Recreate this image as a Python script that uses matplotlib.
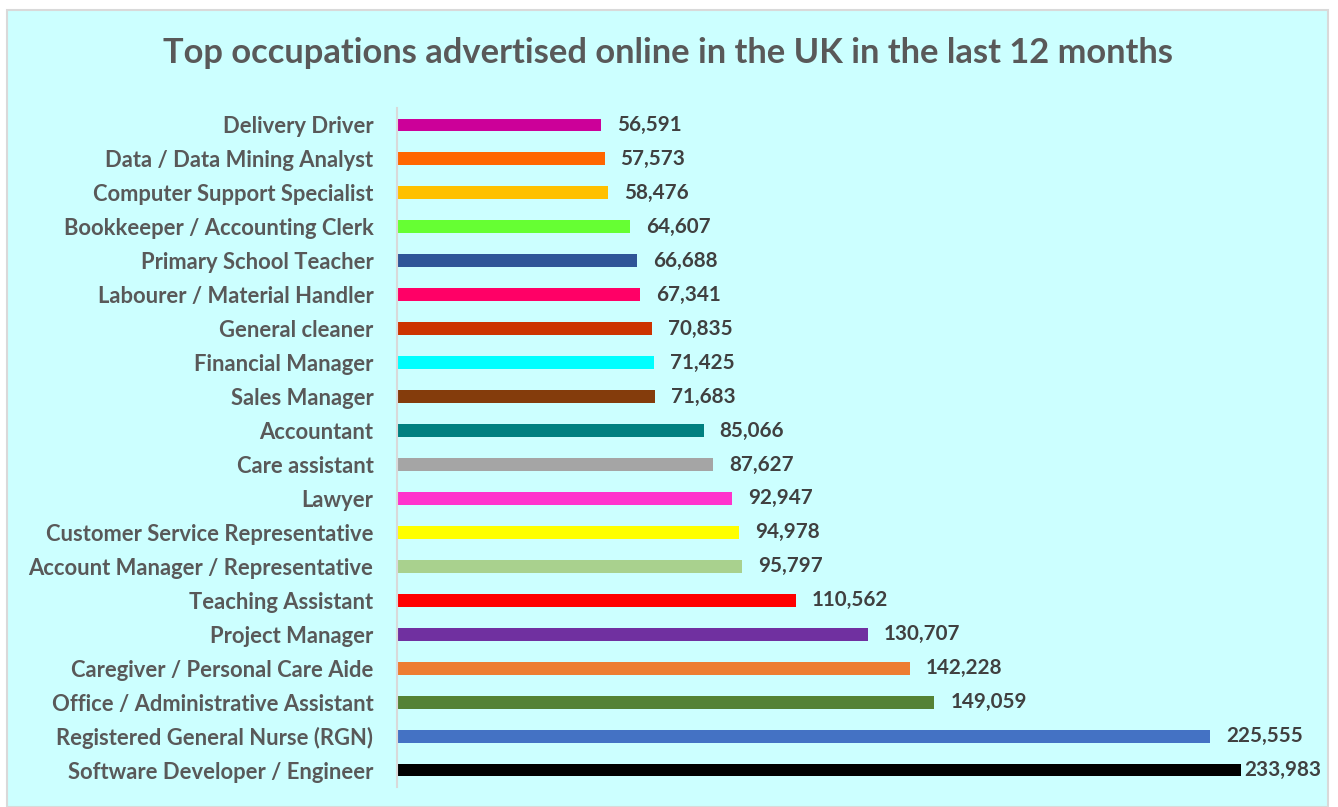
import matplotlib
matplotlib.use("Agg")
import matplotlib.pyplot as plt
from matplotlib.patches import Rectangle

categories = [
    "Delivery Driver", "Data / Data Mining Analyst", "Computer Support Specialist",
    "Bookkeeper / Accounting Clerk", "Primary School Teacher", "Labourer / Material Handler",
    "General cleaner", "Financial Manager", "Sales Manager", "Accountant", "Care assistant",
    "Lawyer", "Customer Service Representative", "Account Manager / Representative",
    "Teaching Assistant", "Project Manager", "Caregiver / Personal Care Aide",
    "Office / Administrative Assistant", "Registered General Nurse (RGN)",
    "Software Developer / Engineer",
]
values = [56591, 57573, 58476, 64607, 66688, 67341, 70835, 71425, 71683, 85066,
          87627, 92947, 94978, 95797, 110562, 130707, 142228, 149059, 225555, 233983]
colors = ["#CC0099", "#FF6600", "#FFC000", "#66FF33", "#2F5597", "#FF0066", "#CC3300",
          "#00FFFF", "#843C0C", "#008080", "#A5A5A5", "#FF33CC", "#FFFF00", "#A9D18E",
          "#FF0000", "#7030A0", "#ED7D31", "#548235", "#4472C4", "#000000"]
title = "Top occupations advertised online in the UK in the last 12 months"

plt.rcParams['font.family'] = ['Lato', 'DejaVu Sans']

W, H = 1338, 807
fig = plt.figure(figsize=(W / 100, H / 100), dpi=100)
fig.patch.set_facecolor("white")
bg = Rectangle((7 / W, 0), (1328 - 7) / W, (H - 10) / H,
               transform=fig.transFigure, facecolor="#CCFFFF",
               edgecolor="#D9D9D9", linewidth=1.5, zorder=-10)
fig.patches.append(bg)

ax = fig.add_axes([397 / W, 1 - 787 / H, (1321 - 397) / W, (787 - 108) / H])
ax.set_zorder(5)
ax.set_facecolor("none")
n = len(categories)
ypos = list(range(n))[::-1]
ax.barh(ypos, values, height=0.38, color=colors, zorder=2)
xmax = 256300
ax.set_xlim(0, xmax)
ax.set_ylim(-0.5, n - 0.5)
ax.set_yticks(ypos)
ax.set_yticklabels(categories, fontsize=15.8, fontweight="bold", color="#595959")
ax.tick_params(axis="y", length=0, pad=17)
ax.set_xticks([])
for s in ["top", "right", "bottom"]:
    ax.spines[s].set_visible(False)
ax.spines["left"].set_color("#D9D9D9")
ax.spines["left"].set_linewidth(1.5)

for y, v in zip(ypos, values):
    label = f"{v:,}"
    # outside-end label; if it would not fit, right-align at plot edge
    if v > 0.9 * xmax:
        ax.text(xmax, y, label, ha="right", va="center", fontsize=14.9,
                fontweight="bold", color="#404040")
    else:
        ax.annotate(label, (v, y), xytext=(11.5, 0), textcoords="offset points",
                    ha="left", va="center", fontsize=14.9, fontweight="bold",
                    color="#404040")

fig.text(668 / W, 1 - 53 / H, title, ha="center", va="center", fontsize=24.8,
         fontweight="bold", color="#595959")

fig.savefig("out.png", dpi=100)
